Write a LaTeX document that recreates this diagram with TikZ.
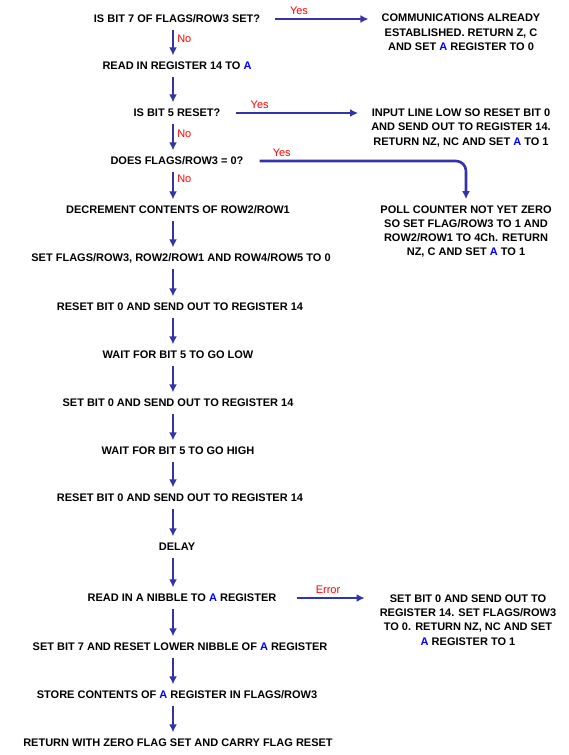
\documentclass[tikz,border=0pt]{standalone}
\usepackage{fontspec}
\setmainfont{Liberation Sans}
\usetikzlibrary{arrows.meta}
\definecolor{flowblue}{RGB}{51,51,170}
\definecolor{regblue}{RGB}{0,0,255}
\definecolor{answerred}{RGB}{255,0,0}
\newcommand{\regA}{\textcolor{regblue}{A}}
\begin{document}
\begin{tikzpicture}[>={Latex[length=8pt,width=8pt]},x=1pt,y=-1pt,
	stepbox/.style={font=\bfseries\fontsize{11}{14.3}\selectfont,inner xsep=3pt,inner ysep=3pt,text height=7.9pt,text depth=0pt},
	resultbox/.style={font=\bfseries\fontsize{11}{14.3}\selectfont,align=center,inner sep=3pt},
	flow/.style={->,draw=flowblue,line width=2.6pt,shorten <=3.5pt,shorten >=3.5pt},
	answer/.style={text=answerred,font=\fontsize{11}{12}\selectfont,inner sep=3pt}]
	\useasboundingbox (0,0) rectangle (569,755);
	\coordinate (X) at (173,0);
	\node[stepbox] (S1) at (177,19) {IS BIT 7 OF FLAGS/ROW3 SET?};
	\node[stepbox] (S2) at (177,66) {READ IN REGISTER 14 TO \regA};
	\node[stepbox] (S3) at (177,113) {IS BIT 5 RESET?};
	\node[stepbox] (S4) at (177,161) {DOES FLAGS/ROW3 = 0?};
	\node[stepbox] (S5) at (178,210) {DECREMENT CONTENTS OF ROW2/ROW1};
	\node[stepbox] (S6) at (181,258) {SET FLAGS/ROW3, ROW2/ROW1 AND ROW4/ROW5 TO 0};
	\node[stepbox] (S7) at (180,307) {RESET BIT 0 AND SEND OUT TO REGISTER 14};
	\node[stepbox] (S8) at (178,355) {WAIT FOR BIT 5 TO GO LOW};
	\node[stepbox] (S9) at (178,403) {SET BIT 0 AND SEND OUT TO REGISTER 14};
	\node[stepbox] (S10) at (178,451) {WAIT FOR BIT 5 TO GO HIGH};
	\node[stepbox] (S11) at (180,498) {RESET BIT 0 AND SEND OUT TO REGISTER 14};
	\node[stepbox] (S12) at (177,547) {DELAY};
	\node[stepbox] (S13) at (182,598) {READ IN A NIBBLE TO \regA{} REGISTER};
	\node[stepbox] (S14) at (180,647) {SET BIT 7 AND RESET LOWER NIBBLE OF \regA{} REGISTER};
	\node[stepbox] (S15) at (177,695) {STORE CONTENTS OF \regA{} REGISTER IN FLAGS/ROW3};
	\node[stepbox] (S16) at (178,743) {RETURN WITH ZERO FLAG SET AND CARRY FLAG RESET};
	\node[resultbox] (R1) at (461,32.5) {COMMUNICATIONS ALREADY\\ESTABLISHED. RETURN Z, C\\AND SET \regA{} REGISTER TO 0};
	\node[resultbox] (R2) at (461,128) {INPUT LINE LOW SO RESET BIT 0\\AND SEND OUT TO REGISTER 14.\\RETURN NZ, NC AND SET \regA{} TO 1};
	\node[resultbox] (R3) at (466,231.5) {POLL COUNTER NOT YET ZERO\\SO SET FLAG/ROW3 TO 1 AND\\ROW2/ROW1 TO 4Ch. RETURN\\NZ, C AND SET \regA{} TO 1};
	\node[resultbox] (R4) at (468,620) {SET BIT 0 AND SEND OUT TO\\REGISTER 14. SET FLAGS/ROW3\\TO 0. RETURN NZ, NC AND SET\\\regA{} REGISTER TO 1};
	\draw[flow] (S1.south -| X)--node[answer,right,pos=0.4]{No}(S2.north -| X);
	\draw[flow] (S3.south -| X)--node[answer,right,pos=0.4]{No}(S4.north -| X);
	\draw[flow] (S4.south -| X)--node[answer,right,pos=0.3]{No}(S5.north -| X);
	\foreach \a/\b in {S2/S3,S5/S6,S6/S7,S7/S8,S8/S9,S9/S10,S10/S11,S11/S12,S12/S13,S13/S14,S14/S15,S15/S16}
		\draw[flow] (\a.south -| X)--(\b.north -| X);
	\draw[flow,shorten <=12pt,shorten >=10pt] (S1.east)--node[answer,above,pos=0.31]{Yes}(S1.east -| R1.west);
	\draw[flow,shorten <=12pt,shorten >=10pt] (S3.east)--node[answer,above,pos=0.25]{Yes}(S3.east -| R2.west);
	\draw[flow,shorten <=13pt,shorten >=3pt,rounded corners=10pt] (S4.east)-|node[answer,above,pos=0.08]{Yes}(R3.north);
	\draw[flow,shorten <=17pt,shorten >=12pt] (S13.east)--node[answer,above]{Error}(S13.east -| R4.west);
\end{tikzpicture}
\end{document}
